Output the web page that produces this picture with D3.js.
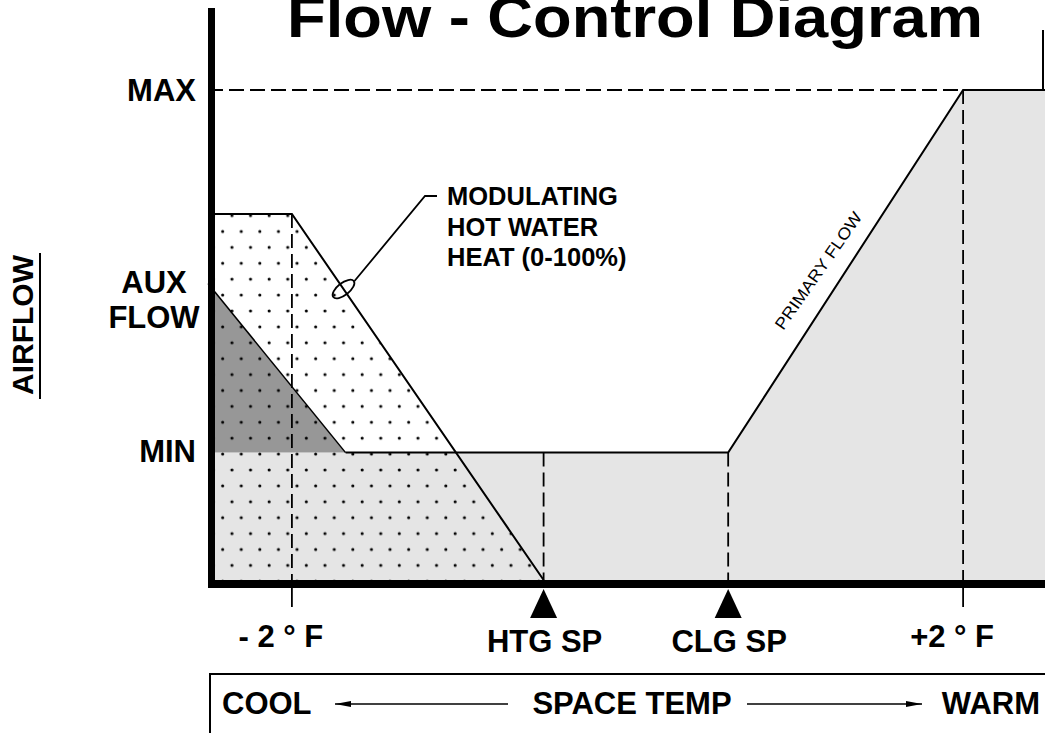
<!DOCTYPE html>
<html>
<head>
<meta charset="utf-8">
<script src="https://cdn.jsdelivr.net/npm/d3@7"></script>
<style>
  body { margin: 0; background: #fff; }
  svg { display: block; }
  text { font-family: "Liberation Sans", Arial, Helvetica, sans-serif; font-weight: bold; fill: #000; }
</style>
</head>
<body>
<script>
// space temperature (deg F from centre) and airflow (% of max)
const tempTicks = [-2, 2];
const tempTickLabels = ["- 2 \u00b0 F", "+2 \u00b0 F"];
const setpointNames = ["HTG SP", "CLG SP"];
const setpointTemps = [-0.5, 0.6];
const levelNames = ["MAX", "MIN"];
const levelFlows = [100, 26];
const auxNames = ["AUX", "FLOW"];
const auxFlow = 60.5;

// primary damper flow
const primaryTemps = [-2.5, 0.6, 2, 2.5];
const primaryFlows = [26, 26, 100, 100];
// auxiliary (fan) flow
const auxTemps = [-2.5, -1.68];
const auxFlows = [60.5, 26];
// hot water heat
const heatTemps = [-2.5, -2, -0.5];
const heatFlows = [74.7, 74.7, 0];

const heatLabel = ["MODULATING", "HOT WATER", "HEAT (0-100%)"];

const svg = d3.select("body").append("svg")
   .attr("width", 1045)
   .attr("height", 733);

const x = d3.scaleLinear().domain([-2.5, 2.5]).range([208, 1047]);
const y = d3.scaleLinear().domain([0, 100]).range([580, 90]);

const pts = (ts, fs) => ts.map((t, i) => [x(t), y(fs[i])]);
const line = d3.line();

// dot texture
const defs = svg.append("defs");
const pat = defs.append("pattern")
   .attr("id", "dots")
   .attr("patternUnits", "userSpaceOnUse")
   .attr("x", 218).attr("y", 227.5)
   .attr("width", 18.6).attr("height", 31.8);
pat.append("circle").attr("cx", 4.65).attr("cy", 4).attr("r", 1.55);
pat.append("circle").attr("cx", 13.95).attr("cy", 19.9).attr("r", 1.55);

// primary flow area
const primaryPts = pts(primaryTemps, primaryFlows);
svg.append("path")
   .attr("d", line([[x(-2.5), y(0)], ...primaryPts, [x(2.5), y(0)]]) + "Z")
   .attr("fill", "#e5e5e5");

// aux flow triangle
const auxPts = pts(auxTemps, auxFlows);
svg.append("path")
   .attr("d", line([...auxPts, [x(-2.5), y(26)]]) + "Z")
   .attr("fill", "#979797");

// heat area, dotted
const heatPts = pts(heatTemps, heatFlows);
svg.append("path")
   .attr("d", line([...heatPts, [x(-2.5), y(0)]]) + "Z")
   .attr("fill", "url(#dots)");

// MAX dashed reference
svg.append("line")
   .attr("x1", x(-2.5)).attr("x2", x(2))
   .attr("y1", y(100)).attr("y2", y(100))
   .attr("stroke", "#000").attr("stroke-width", 1.8)
   .attr("stroke-dasharray", "15,6");

// vertical dashed guides
const guides = [
   [tempTicks[0], heatFlows[1]],
   [tempTicks[1], 100],
   [setpointTemps[0], levelFlows[1]],
   [setpointTemps[1], levelFlows[1]]
];
svg.selectAll("line.guide")
   .data(guides)
   .enter().append("line")
   .attr("class", "guide")
   .attr("x1", d => x(d[0])).attr("x2", d => x(d[0]))
   .attr("y1", d => y(d[1])).attr("y2", y(0))
   .attr("stroke", "#000").attr("stroke-width", 1.8)
   .attr("stroke-dasharray", "14,6");

// flow lines
svg.append("path")
   .attr("d", line([auxPts[1], ...primaryPts.slice(1)]))
   .attr("fill", "none").attr("stroke", "#000").attr("stroke-width", 2);
svg.append("path")
   .attr("d", line(auxPts))
   .attr("fill", "none").attr("stroke", "#000").attr("stroke-width", 1.5);
svg.append("path")
   .attr("d", line(heatPts))
   .attr("fill", "none").attr("stroke", "#000").attr("stroke-width", 2);

// top-right frame
svg.append("line")
   .attr("x1", 1043).attr("x2", 1043)
   .attr("y1", 30).attr("y2", y(100))
   .attr("stroke", "#000").attr("stroke-width", 2);

// axes
svg.append("line")
   .attr("x1", 211.5).attr("x2", 211.5)
   .attr("y1", 8).attr("y2", 588)
   .attr("stroke", "#000").attr("stroke-width", 7);
svg.append("line")
   .attr("x1", 208).attr("x2", 1045)
   .attr("y1", 584).attr("y2", 584)
   .attr("stroke", "#000").attr("stroke-width", 8);

// temperature ticks
svg.selectAll("line.tick")
   .data(tempTicks)
   .enter().append("line")
   .attr("x1", d => x(d)).attr("x2", d => x(d))
   .attr("y1", 588).attr("y2", 607)
   .attr("stroke", "#000").attr("stroke-width", 1.8);
svg.selectAll("text.tick")
   .data(tempTicks)
   .enter().append("text")
   .attr("x", d => x(d) - 11)
   .attr("y", 647)
   .attr("text-anchor", "middle")
   .style("font-size", "31px")
   .text((d, i) => tempTickLabels[i]);

// setpoint markers
svg.selectAll("path.sp")
   .data(setpointTemps)
   .enter().append("path")
   .attr("d", d => line([[x(d), 589], [x(d) + 13.5, 618], [x(d) - 13.5, 618]]) + "Z")
   .attr("fill", "#000");
svg.selectAll("text.sp")
   .data(setpointTemps)
   .enter().append("text")
   .attr("x", d => x(d) + 1)
   .attr("y", 652)
   .attr("text-anchor", "middle")
   .style("font-size", "31px")
   .text((d, i) => setpointNames[i]);

// airflow levels
svg.selectAll("text.level")
   .data(levelFlows)
   .enter().append("text")
   .attr("x", 196)
   .attr("y", (d, i) => y(d) + (i === 0 ? 11 : 9))
   .attr("text-anchor", "end")
   .style("font-size", "31px")
   .text((d, i) => levelNames[i]);
svg.selectAll("text.aux")
   .data(auxNames)
   .enter().append("text")
   .attr("x", 154)
   .attr("y", (d, i) => y(auxFlow) + 9.5 + i * 35)
   .attr("text-anchor", "middle")
   .style("font-size", "31px")
   .text(d => d);

// y axis title
svg.append("text")
   .attr("transform", "translate(33,325) rotate(-90)")
   .attr("text-anchor", "middle")
   .style("font-size", "30px")
   .text("AIRFLOW");
svg.append("line")
   .attr("x1", 40).attr("x2", 40)
   .attr("y1", 253).attr("y2", 399)
   .attr("stroke", "#000").attr("stroke-width", 2);

// title (runs off the top edge, as in the original)
svg.append("text")
   .attr("x", 287).attr("y", 37)
   .attr("textLength", 696)
   .attr("lengthAdjust", "spacingAndGlyphs")
   .style("font-size", "58px")
   .text("Flow - Control Diagram");

// heat callout
const c = d3.interpolate(heatPts[1], heatPts[2])(0.205);
svg.append("ellipse")
   .attr("cx", c[0]).attr("cy", c[1])
   .attr("rx", 13).attr("ry", 6)
   .attr("transform", `rotate(-38,${c[0]},${c[1]})`)
   .attr("fill", "none").attr("stroke", "#000").attr("stroke-width", 1.8);
svg.append("path")
   .attr("d", line([[c[0] + 11, c[1] - 8], [425, 196], [437, 196]]))
   .attr("fill", "none").attr("stroke", "#000").attr("stroke-width", 1.8);
svg.selectAll("text.heat")
   .data(heatLabel)
   .enter().append("text")
   .attr("x", 447)
   .attr("y", (d, i) => 205 + i * 30.5)
   .style("font-size", "25.5px")
   .text(d => d);

// primary flow label along the ramp
svg.append("text")
   .attr("transform", "translate(823,274) rotate(-55)")
   .attr("text-anchor", "middle")
   .attr("textLength", 139)
   .attr("lengthAdjust", "spacingAndGlyphs")
   .style("font-size", "16.5px")
   .style("font-weight", "normal")
   .text("PRIMARY FLOW");

// space temp box
svg.append("rect")
   .attr("x", 210).attr("y", 674)
   .attr("width", 900).attr("height", 100)
   .attr("fill", "none").attr("stroke", "#000").attr("stroke-width", 2);
const boxText = [["COOL", 222, "start"], ["SPACE TEMP", 632, "middle"], ["WARM", 1040, "end"]];
svg.selectAll("text.box")
   .data(boxText)
   .enter().append("text")
   .attr("x", d => d[1]).attr("y", 714)
   .attr("text-anchor", d => d[2])
   .style("font-size", "31px")
   .text(d => d[0]);
// arrows
const arrows = [[508, 335], [747, 922]];
svg.selectAll("line.arrow")
   .data(arrows)
   .enter().append("line")
   .attr("x1", d => d[0]).attr("x2", d => d[1])
   .attr("y1", 704).attr("y2", 704)
   .attr("stroke", "#000").attr("stroke-width", 1.5);
svg.selectAll("path.arrow")
   .data(arrows)
   .enter().append("path")
   .attr("d", d => {
      const s = Math.sign(d[1] - d[0]);
      return line([[d[1], 704], [d[1] - s * 16, 701], [d[1] - s * 16, 707]]) + "Z";
   })
   .attr("fill", "#000");
</script>
</body>
</html>
